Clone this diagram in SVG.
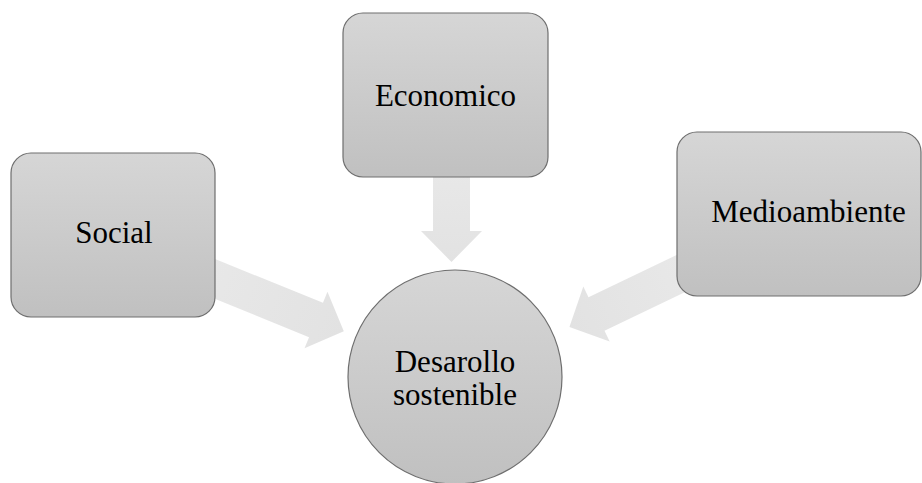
<svg xmlns="http://www.w3.org/2000/svg" width="922" height="483" viewBox="0 0 922 483">
<defs>
<linearGradient id="g" x1="0" y1="0" x2="0" y2="1">
<stop offset="0" stop-color="#d6d6d6"/>
<stop offset="1" stop-color="#c0c0c0"/>
</linearGradient>
<linearGradient id="ga" x1="0" y1="0" x2="1" y2="0">
<stop offset="0" stop-color="#e8e8e8"/>
<stop offset="1" stop-color="#e2e2e2"/>
</linearGradient>
</defs>
<style>
.box{fill:url(#g);stroke:#6e6e6e;stroke-width:1.2}
.arr{fill:url(#ga);stroke:none}
.t{font-family:"Liberation Serif","Tinos","Noto Serif","DejaVu Serif","Times New Roman",Times,serif;font-size:31px;fill:#000;text-anchor:middle}
</style>
<rect width="922" height="483" fill="#fff"/>
<g id="connectors">
<g transform="translate(316,320) rotate(22.1)"><polygon class="arr" points="-125,-18.5 0,-18.5 0,-30.5 30,0 0,30.5 0,18.5 -125,18.5"/></g>
<g transform="translate(451.5,231) rotate(90)"><polygon class="arr" points="-60,-18.5 0,-18.5 0,-30.5 31,0 0,30.5 0,18.5 -60,18.5"/></g>
<g transform="translate(596.5,314) rotate(154.4)"><polygon class="arr" points="-100,-18.5 0,-18.5 0,-30.5 30,0 0,30.5 0,18.5 -100,18.5"/></g>
</g>
<g id="social">
<rect class="box" x="11" y="153" width="204" height="164" rx="20"/>
<text class="t" x="114" y="243">Social</text>
</g>
<g id="economico">
<rect class="box" x="343" y="13" width="205" height="164" rx="20"/>
<text class="t" x="445.5" y="106">Economico</text>
</g>
<g id="medioambiente">
<rect class="box" x="677" y="132" width="244" height="164" rx="20"/>
<text class="t" x="808.5" y="222">Medioambiente</text>
</g>
<g id="desarrollo">
<circle class="box" cx="455" cy="377" r="107"/>
<text class="t" x="455" y="372">Desarollo</text>
<text class="t" x="455" y="405">sostenible</text>
</g>
</svg>
